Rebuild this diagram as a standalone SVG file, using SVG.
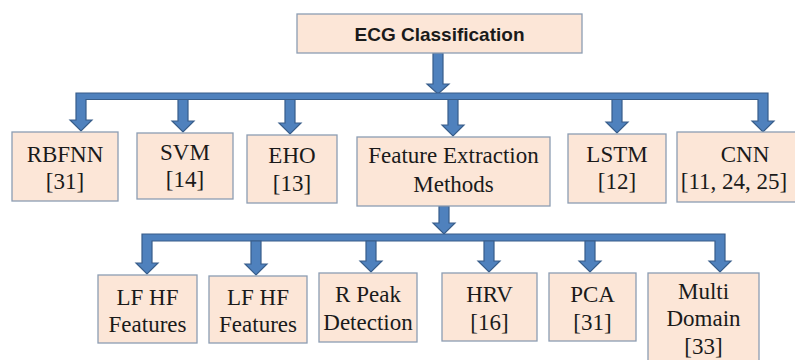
<svg xmlns="http://www.w3.org/2000/svg" width="795" height="360" viewBox="0 0 795 360">
  <style>
    .box { fill: #FCE6D7; stroke: #8C9DB3; stroke-width: 1.3; }
    .arrow { fill: #4F81BD; stroke: #385D8A; stroke-width: 1.2; stroke-linejoin: miter; }
    .lbl { font-family: 'Liberation Serif', 'Times New Roman', 'DejaVu Serif', serif; font-size: 23px; fill: #1A1A1A; text-anchor: middle; }
    .title { font-family: 'Liberation Sans', Arial, sans-serif; font-size: 19px; font-weight: bold; fill: #1A1A1A; text-anchor: middle; }
  </style>
  <rect width="795" height="360" fill="#FFFFFF"/>

  <!-- connectors: blue block arrows and distribution bars -->
  <g id="connectors">
    <!-- root to upper bar -->
    <path class="arrow" d="M433,53 H443 V84 H449 L438,94 L427,84 H433 Z"/>
    <!-- upper bar with bent ends to RBFNN and CNN -->
    <path class="arrow" d="M76,93 H768 V121 H774 L763,132 L752,121 H758 V99.5 H86 V120 H92 L81,131 L70,120 H76 Z"/>
    <path class="arrow" d="M178,99.5 H188 V121 H194 L183,132 L172,121 H178 Z"/>
    <path class="arrow" d="M285,99.5 H295 V123 H301 L290,134 L279,123 H285 Z"/>
    <path class="arrow" d="M448,99.5 H458 V125 H464 L453,136 L442,125 H448 Z"/>
    <path class="arrow" d="M612,99.5 H622 V122 H628 L617,133 L606,122 H612 Z"/>
    <!-- feature extraction to lower bar -->
    <path class="arrow" d="M439,206 H449 V223 H455 L444,234 L433,223 H439 Z"/>
    <!-- lower bar with bent ends to first LF HF and Multi Domain -->
    <path class="arrow" d="M142,234 H725 V261 H731 L720,272 L709,261 H715 V241 H152 V263 H158 L147,274 L136,263 H142 Z"/>
    <path class="arrow" d="M251,241 H261 V264 H267 L256,275 L245,264 H251 Z"/>
    <path class="arrow" d="M366,241 H376 V261 H382 L371,272 L360,261 H366 Z"/>
    <path class="arrow" d="M484,241 H494 V261 H500 L489,272 L478,261 H484 Z"/>
    <path class="arrow" d="M585,241 H595 V261 H601 L590,272 L579,261 H585 Z"/>
  </g>

  <g id="ecg-classification">
    <rect class="box" x="297" y="14" width="285" height="39"/>
    <text class="title" x="439.5" y="41">ECG Classification</text>
  </g>

  <g id="rbfnn">
    <rect class="box" x="12" y="132" width="106" height="69"/>
    <text class="lbl" x="65" y="162">RBFNN</text>
    <text class="lbl" x="65" y="189">[31]</text>
  </g>
  <g id="svm">
    <rect class="box" x="137" y="133" width="96" height="66"/>
    <text class="lbl" x="185" y="160">SVM</text>
    <text class="lbl" x="185" y="187">[14]</text>
  </g>
  <g id="eho">
    <rect class="box" x="247" y="135" width="90" height="68"/>
    <text class="lbl" x="292" y="163">EHO</text>
    <text class="lbl" x="292" y="191">[13]</text>
  </g>
  <g id="feature-extraction">
    <rect class="box" x="357" y="137" width="193" height="69"/>
    <text class="lbl" x="453.5" y="163">Feature Extraction</text>
    <text class="lbl" x="453.5" y="192">Methods</text>
  </g>
  <g id="lstm">
    <rect class="box" x="568" y="134" width="98" height="69"/>
    <text class="lbl" x="617" y="162">LSTM</text>
    <text class="lbl" x="617" y="189">[12]</text>
  </g>
  <g id="cnn">
    <rect class="box" x="677" y="132" width="136" height="70"/>
    <text class="lbl" x="745" y="162">CNN</text>
    <text class="lbl" x="734" y="189">[11, 24, 25]</text>
  </g>

  <g id="lf-hf-1">
    <rect class="box" x="98" y="275" width="99" height="68"/>
    <text class="lbl" x="147.5" y="305">LF HF</text>
    <text class="lbl" x="147.5" y="332">Features</text>
  </g>
  <g id="lf-hf-2">
    <rect class="box" x="209" y="276" width="98" height="67"/>
    <text class="lbl" x="258" y="305">LF HF</text>
    <text class="lbl" x="258" y="332">Features</text>
  </g>
  <g id="r-peak">
    <rect class="box" x="319" y="273" width="98" height="69"/>
    <text class="lbl" x="368" y="302">R Peak</text>
    <text class="lbl" x="368" y="330">Detection</text>
  </g>
  <g id="hrv">
    <rect class="box" x="442" y="273" width="95" height="68"/>
    <text class="lbl" x="489.5" y="302">HRV</text>
    <text class="lbl" x="489.5" y="330">[16]</text>
  </g>
  <g id="pca">
    <rect class="box" x="549" y="273" width="87" height="68"/>
    <text class="lbl" x="592.5" y="302">PCA</text>
    <text class="lbl" x="592.5" y="330">[31]</text>
  </g>
  <g id="multi-domain">
    <rect class="box" x="648" y="273" width="111" height="95"/>
    <text class="lbl" x="703.5" y="299">Multi</text>
    <text class="lbl" x="703.5" y="326">Domain</text>
    <text class="lbl" x="703.5" y="354">[33]</text>
  </g>
</svg>
